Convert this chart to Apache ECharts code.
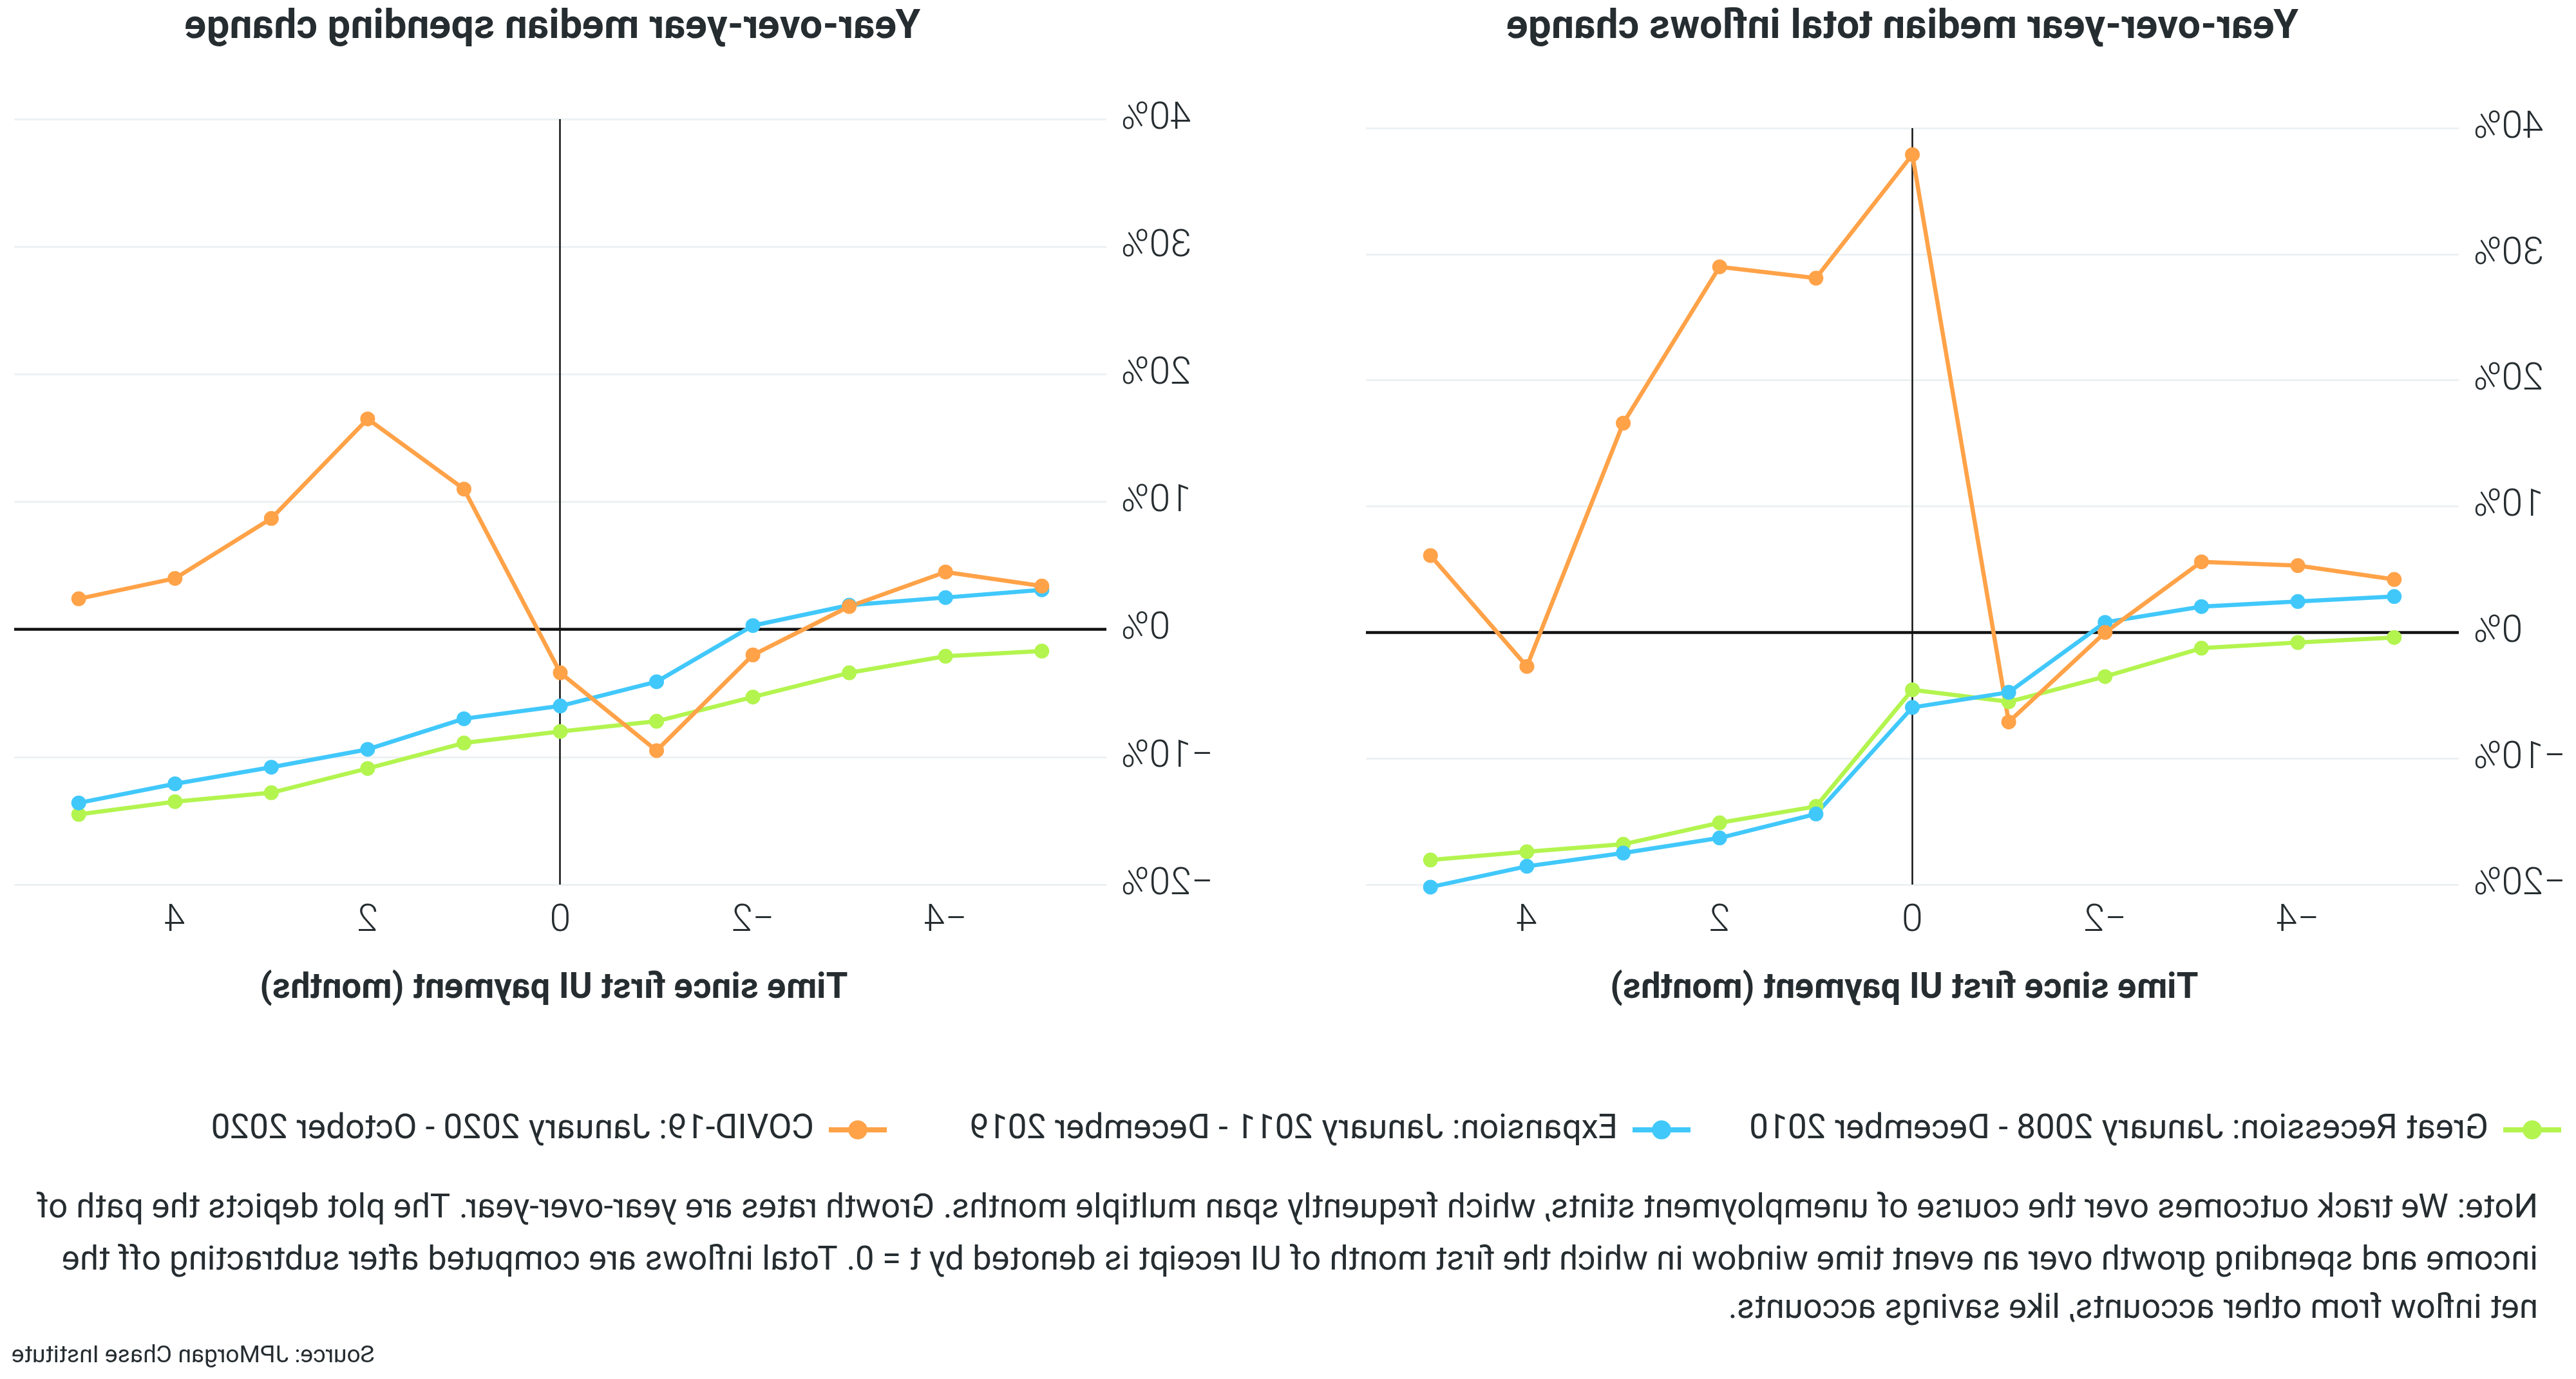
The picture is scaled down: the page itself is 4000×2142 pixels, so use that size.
<!DOCTYPE html>
<html>
<head>
<meta charset="utf-8">
<script src="https://cdn.jsdelivr.net/npm/echarts@6/dist/echarts.min.js"></script>
<style>
html,body{margin:0;padding:0;background:#fff;overflow:hidden}
#chart{width:4000px;height:2142px;transform:scaleX(-1);transform-origin:50% 50%}
</style>
</head>
<body>
<div id="chart"></div>
<script>
// ---------------- data ----------------
const months = [-5, -4, -3, -2, -1, 0, 1, 2, 3, 4, 5];
const xTickValues = [-4, -2, 0, 2, 4];
const yTickValues = [-20, -10, 0, 10, 20, 30, 40];

const seriesNames = [
  'Great Recession: January 2008 - December 2010',
  'Expansion: January 2011 - December 2019',
  'COVID-19: January 2020 - October 2020'
];

// Year-over-year median total inflows change (%)
const inflowGreatRecession = [-0.4, -0.8, -1.25, -3.5, -5.5, -4.55, -13.8, -15.1, -16.8, -17.4, -18.05];
const inflowExpansion      = [2.85, 2.45, 2.05, 0.8, -4.75, -5.95, -14.4, -16.3, -17.5, -18.55, -20.2];
const inflowCovid          = [4.2, 5.3, 5.6, 0.0, -7.1, 37.9, 28.1, 29.0, 16.6, -2.7, 6.1];

// Year-over-year median spending change (%)
const spendGreatRecession = [-1.7, -2.1, -3.4, -5.3, -7.2, -8.0, -8.9, -10.9, -12.8, -13.5, -14.5];
const spendExpansion      = [3.1, 2.5, 1.9, 0.3, -4.1, -6.0, -7.0, -9.4, -10.8, -12.1, -13.6];
const spendCovid          = [3.4, 4.5, 1.8, -2.0, -9.5, -3.4, 11.0, 16.5, 8.7, 4.0, 2.4];

const panelTitles = ['Year-over-year median total inflows change', 'Year-over-year median spending change'];
const xAxisTitle = 'Time since first UI payment (months)';
const noteLines = [
  'Note: We track outcomes over the course of unemployment stints, which frequently span multiple months. Growth rates are year-over-year. The plot depicts the path of',
  'income and spending growth over an event time window in which the first month of UI receipt is denoted by t = 0. Total inflows are computed after subtracting off the',
  'net inflow from other accounts, like savings accounts.'
];
const sourceText = 'Source: JPMorgan Chase Institute';

// ---------------- styling ----------------
const colors = ['#b3f44f', '#41c8fb', '#ffa248'];
const textColor = '#262d31';

const mctx = document.createElement('canvas').getContext('2d');
function hasFont(name) {
  mctx.font = '50px monospace';
  const a = mctx.measureText('abcdefghijklmnopqrstuvwxyz0123456789').width;
  mctx.font = '50px "' + name + '", monospace';
  const b = mctx.measureText('abcdefghijklmnopqrstuvwxyz0123456789').width;
  return Math.abs(a - b) > 0.5;
}
const NARROW = hasFont('Liberation Sans Narrow') ? '"Liberation Sans Narrow", Roboto, sans-serif' : 'Roboto, sans-serif';
const MAIN = 'Roboto, sans-serif';
function fitSize(text, family, weight, width) {
  mctx.font = weight + ' 100px ' + family;
  return 100 * width / mctx.measureText(text).width;
}
const tickSize = fitSize('40%', MAIN, 300, 109);
const titleSize = fitSize(panelTitles[1], MAIN, 'bold', 1143);
const axisNameSize = fitSize(xAxisTitle, MAIN, 'bold', 913);
const legendSize = fitSize(seriesNames[0], NARROW, 'normal', 1148);
const noteSize = fitSize(noteLines[0], NARROW, 'normal', 3885);
const sourceSize = fitSize(sourceText, NARROW, 'normal', 564);

const fmtSigned = (v, suffix) => (v < 0 ? '\u2212' : '') + Math.abs(v) + suffix;

const grids = [
  {left: 182, width: 1697, top: 199, height: 1175},
  {left: 2282, width: 1696, top: 185, height: 1189}
];

function xAxisFor(i) {
  return {
    type: 'value', gridIndex: i, min: -5.67, max: 5.67,
    axisLine: {show: false}, axisTick: {show: false}, splitLine: {show: false},
    axisLabel: {
      customValues: xTickValues, margin: 28, fontSize: tickSize, fontFamily: MAIN, fontWeight: 300,
      color: textColor, formatter: v => fmtSigned(v, '')
    }
  };
}
function yAxisFor(i) {
  return {
    type: 'value', gridIndex: i, min: -20, max: 40, interval: 10,
    axisLine: {show: false}, axisTick: {show: false},
    splitLine: {show: true, lineStyle: {color: '#edf1f3', width: 3}},
    axisLabel: {
      margin: 23, fontSize: tickSize, fontFamily: MAIN, fontWeight: 300,
      color: textColor, formatter: v => fmtSigned(v, '%')
    }
  };
}

const panelData = [
  [inflowGreatRecession, inflowExpansion, inflowCovid],
  [spendGreatRecession, spendExpansion, spendCovid]
];

const series = [];
panelData.forEach((arrs, gi) => {
  arrs.forEach((arr, si) => {
    const s = {
      type: 'line', name: seriesNames[si], xAxisIndex: gi, yAxisIndex: gi,
      data: months.map((m, k) => [m, arr[k]]),
      symbol: 'circle', symbolSize: 23, clip: false,
      lineStyle: {color: colors[si], width: 6.5},
      itemStyle: {color: colors[si]},
      emphasis: {disabled: true}, animation: false, z: 3
    };
    if (si === 0) {
      s.markLine = {
        silent: true, symbol: 'none', z: 1, animation: false,
        label: {show: false},
        data: [
          {yAxis: 0, lineStyle: {color: '#111', width: 4.5, type: 'solid'}},
          {xAxis: 0, lineStyle: {color: '#111', width: 2.5, type: 'solid'}}
        ]
      };
    }
    series.push(s);
  });
});

function legendFor(i, left) {
  return {
    data: [seriesNames[i]], left: left, top: 1742 - 18.5, orient: 'horizontal',
    itemWidth: 90, itemHeight: 37, selectedMode: false,
    lineStyle: {width: 8},
    textStyle: {fontSize: legendSize, fontFamily: NARROW, color: textColor, padding: [0, 0, 0, 18]}
  };
}

function txt(text, x, y, size, family, weight, align) {
  return {
    type: 'text', x: x, y: y, silent: true,
    style: {
      text: text, fontSize: size, fontFamily: family, fontWeight: weight, fill: textColor,
      textAlign: align, align: align, textVerticalAlign: 'middle', verticalAlign: 'middle'
    }
  };
}

const graphics = [
  txt(panelTitles[0], 1046, 43, titleSize, MAIN, 'bold', 'center'),
  txt(panelTitles[1], 3142, 43, titleSize, MAIN, 'bold', 'center'),
  txt(xAxisTitle, 1043, 1536, axisNameSize, MAIN, 'bold', 'center'),
  txt(xAxisTitle, 3140, 1536, axisNameSize, MAIN, 'bold', 'center'),
  txt(noteLines[0], 59, 1878, noteSize, NARROW, 'normal', 'left'),
  txt(noteLines[1], 59, 1959, noteSize, NARROW, 'normal', 'left'),
  txt(noteLines[2], 59, 2034, noteSize, NARROW, 'normal', 'left'),
  txt(sourceText, 3982, 2107, sourceSize, NARROW, 'normal', 'right')
];

const chart = echarts.init(document.getElementById('chart'), null, {renderer: 'canvas', width: 4000, height: 2142});
chart.setOption({
  backgroundColor: '#ffffff',
  animation: false,
  grid: grids.map(g => Object.assign({outerBoundsMode: 'none', containLabel: false}, g)),
  xAxis: [xAxisFor(0), xAxisFor(1)],
  yAxis: [yAxisFor(0), yAxisFor(1)],
  legend: [legendFor(0, 14), legendFor(1, 1366), legendFor(2, 2614)],
  series: series,
  graphic: graphics
});
</script>
</body>
</html>
